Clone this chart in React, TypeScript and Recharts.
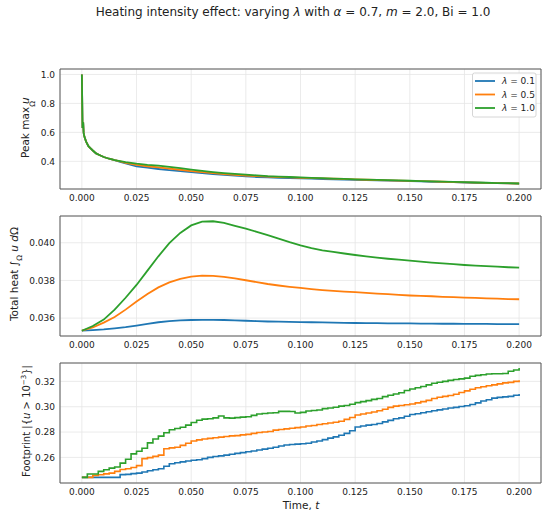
import React from 'react';
import { LineChart, Line, XAxis, YAxis, CartesianGrid, ReferenceArea } from 'recharts';

// lambda values shown in the legend, one colour each
const lambdas = ['0.1', '0.5', '1.0'];
const colors = ['#1f77b4', '#ff7f0e', '#2ca02c'];
const keys = ['l01', 'l05', 'l10'];

const xTicks = [0, 0.025, 0.05, 0.075, 0.1, 0.125, 0.15, 0.175, 0.2];
const xDomain = [-0.01, 0.21];

// panel 1: peak max u
const peakTime = [
  0, 0.0003, 0.0006, 0.0008, 0.001, 0.0015, 0.002, 0.003, 0.004, 0.005, 0.0065, 0.008, 0.01, 0.0125, 0.015, 0.0175, 0.02,
  0.025, 0.03, 0.035, 0.04, 0.045, 0.05, 0.055, 0.06, 0.065, 0.07, 0.075, 0.08, 0.085, 0.09, 0.095, 0.1,
  0.105, 0.11, 0.115, 0.12, 0.125, 0.13, 0.135, 0.14, 0.145, 0.15, 0.155, 0.16, 0.165, 0.17, 0.175, 0.18,
  0.185, 0.19, 0.195, 0.2,
];
const peakL01 = [
  1.0, 0.63, 0.67, 0.6, 0.58, 0.555, 0.535, 0.505, 0.49, 0.475, 0.455, 0.444, 0.43, 0.418, 0.408, 0.396, 0.386,
  0.366, 0.356, 0.347, 0.339, 0.332, 0.325, 0.318, 0.312, 0.306, 0.301, 0.296, 0.292, 0.289, 0.286, 0.284, 0.282,
  0.28, 0.278, 0.276, 0.274, 0.272, 0.27, 0.268, 0.267, 0.265, 0.263, 0.261, 0.259, 0.258, 0.256, 0.254, 0.252,
  0.251, 0.249, 0.248, 0.246,
];
const peakL05 = [
  1.0, 0.63, 0.67, 0.6, 0.58, 0.555, 0.535, 0.505, 0.49, 0.475, 0.455, 0.444, 0.43, 0.418, 0.408, 0.399, 0.39,
  0.375, 0.366, 0.358, 0.35, 0.342, 0.333, 0.325, 0.318, 0.312, 0.307, 0.302, 0.298, 0.294, 0.291, 0.289, 0.286,
  0.284, 0.282, 0.28, 0.278, 0.275, 0.273, 0.271, 0.269, 0.267, 0.265, 0.263, 0.261, 0.259, 0.257, 0.255, 0.253,
  0.251, 0.25, 0.248, 0.247,
];
const peakL10 = [
  1.0, 0.63, 0.67, 0.6, 0.58, 0.555, 0.535, 0.505, 0.49, 0.475, 0.455, 0.444, 0.43, 0.418, 0.408, 0.401, 0.394,
  0.384, 0.376, 0.37, 0.362, 0.353, 0.343, 0.334, 0.326, 0.319, 0.313, 0.308, 0.303, 0.298, 0.295, 0.292, 0.289,
  0.286, 0.284, 0.281, 0.279, 0.276, 0.274, 0.272, 0.27, 0.268, 0.266, 0.264, 0.262, 0.26, 0.258, 0.256, 0.254,
  0.252, 0.25, 0.249, 0.247,
];

// panel 2: total heat
const heatTime = [
  0, 0.005, 0.01, 0.015, 0.02, 0.025, 0.03, 0.035, 0.04, 0.045, 0.05, 0.055, 0.06, 0.065, 0.07, 0.075, 0.08,
  0.085, 0.09, 0.095, 0.1, 0.105, 0.11, 0.115, 0.12, 0.125, 0.13, 0.135, 0.14, 0.145, 0.15, 0.155, 0.16,
  0.165, 0.17, 0.175, 0.18, 0.185, 0.19, 0.195, 0.2,
];
const heatL01 = [
  0.03533, 0.03536, 0.0354, 0.03546, 0.03552, 0.0356, 0.03569, 0.03578, 0.03584, 0.03588, 0.0359, 0.03591, 0.03591,
  0.0359, 0.03588, 0.03586, 0.03584, 0.03582, 0.03581, 0.0358, 0.03579, 0.03578, 0.03577, 0.03576, 0.03575, 0.03574,
  0.03573, 0.03573, 0.03572, 0.03572, 0.03572, 0.03571, 0.03571, 0.0357, 0.0357, 0.03569, 0.03569, 0.03569, 0.03568,
  0.03568, 0.03568,
];
const heatL05 = [
  0.03533, 0.0355, 0.03576, 0.03606, 0.03645, 0.03688, 0.03728, 0.03763, 0.0379, 0.03808, 0.0382, 0.03825, 0.03824,
  0.03819, 0.03811, 0.03801, 0.03791, 0.03781, 0.03773, 0.03766, 0.0376, 0.03754, 0.03749, 0.03745, 0.03741, 0.03738,
  0.03734, 0.0373, 0.03727, 0.03723, 0.0372, 0.03718, 0.03716, 0.03713, 0.03711, 0.03709, 0.03707, 0.03705, 0.03703,
  0.03701, 0.037,
];
const heatL10 = [
  0.03533, 0.03558, 0.03592, 0.03645, 0.03708, 0.03776, 0.03852, 0.03928, 0.03998, 0.04052, 0.04092, 0.04112, 0.04114,
  0.04106, 0.0409, 0.04075, 0.04058, 0.0404, 0.04022, 0.04003, 0.03986, 0.03972, 0.0396, 0.03951, 0.03943, 0.03935,
  0.03928, 0.03921, 0.03915, 0.0391, 0.03905, 0.039, 0.03895, 0.0389, 0.03886, 0.03882, 0.03879, 0.03876, 0.03873,
  0.0387, 0.03868,
];

// panel 3: footprint
const footTime = [
  0, 0.0025, 0.005, 0.0075, 0.01, 0.0125, 0.015, 0.0175, 0.02, 0.0225, 0.025, 0.0275, 0.03, 0.0325, 0.035, 0.0375,
  0.04, 0.0425, 0.045, 0.0475, 0.05, 0.0525, 0.055, 0.0575, 0.06, 0.0625, 0.065, 0.0675, 0.07, 0.0725, 0.075, 0.0775,
  0.08, 0.0825, 0.085, 0.0875, 0.09, 0.0925, 0.095, 0.0975, 0.1, 0.1025, 0.105, 0.1075, 0.11, 0.1125, 0.115, 0.1175,
  0.12, 0.1225, 0.125, 0.1275, 0.13, 0.1325, 0.135, 0.1375, 0.14, 0.1425, 0.145, 0.1475, 0.15, 0.1525, 0.155, 0.1575,
  0.16, 0.1625, 0.165, 0.1675, 0.17, 0.1725, 0.175, 0.1775, 0.18, 0.1825, 0.185, 0.1875, 0.19, 0.1925, 0.195, 0.1975,
  0.2,
];
const footL01 = [
  0.2442, 0.2442, 0.2442, 0.2442, 0.2442, 0.2442, 0.2442, 0.2464, 0.2466, 0.2472, 0.2476, 0.2485, 0.2495, 0.2503,
  0.251, 0.253, 0.255, 0.2558, 0.2565, 0.2572, 0.2577, 0.2582, 0.259, 0.26, 0.2607, 0.2612, 0.2618, 0.2625, 0.2632,
  0.2638, 0.2645, 0.265, 0.2658, 0.2665, 0.2672, 0.268, 0.269, 0.2698, 0.2702, 0.2705, 0.2708, 0.2712, 0.2722, 0.273,
  0.274, 0.2752, 0.2762, 0.2775, 0.279, 0.281, 0.284, 0.2848, 0.2855, 0.286, 0.2868, 0.288, 0.2892, 0.2905, 0.2912,
  0.2925, 0.2938, 0.2945, 0.2952, 0.296, 0.2968, 0.2975, 0.2982, 0.299, 0.2995, 0.3002, 0.3008, 0.3018, 0.303, 0.3045,
  0.3055, 0.3068, 0.3074, 0.3078, 0.3082, 0.309, 0.31,
];
const footL05 = [
  0.2442, 0.2442, 0.2458, 0.2463, 0.247, 0.2476, 0.249, 0.2505, 0.2511, 0.252, 0.2535, 0.259, 0.2598, 0.2608, 0.2618,
  0.2668, 0.2675, 0.268, 0.2695, 0.2712, 0.273, 0.2738, 0.2745, 0.275, 0.2755, 0.276, 0.2765, 0.277, 0.2772, 0.2778,
  0.2782, 0.279, 0.2797, 0.28, 0.2805, 0.2815, 0.282, 0.2825, 0.283, 0.2835, 0.284, 0.2848, 0.2852, 0.286, 0.2866,
  0.2872, 0.2878, 0.2885, 0.29, 0.2915, 0.2935, 0.2942, 0.295, 0.2958, 0.2968, 0.298, 0.2995, 0.3005, 0.301, 0.3015,
  0.3022, 0.303, 0.304, 0.305, 0.3065, 0.3075, 0.3082, 0.3088, 0.3098, 0.3112, 0.3125, 0.3138, 0.315, 0.3158, 0.3165,
  0.3172, 0.318, 0.3188, 0.3192, 0.32, 0.3208,
];
const footL10 = [
  0.2442, 0.2469, 0.2469, 0.249, 0.2503, 0.2515, 0.2524, 0.2555, 0.2585, 0.2628, 0.2648, 0.2672, 0.2715, 0.2745,
  0.2768, 0.2795, 0.2818, 0.2828, 0.2838, 0.2855, 0.2875, 0.2893, 0.2902, 0.2905, 0.2912, 0.2927, 0.2912, 0.291,
  0.2914, 0.2918, 0.2921, 0.2932, 0.2942, 0.2946, 0.295, 0.2952, 0.2963, 0.2963, 0.2962, 0.295, 0.2955, 0.2966, 0.297,
  0.2974, 0.2985, 0.299, 0.2996, 0.3005, 0.301, 0.302, 0.3032, 0.304, 0.3048, 0.3058, 0.3065, 0.308, 0.309, 0.31,
  0.311, 0.3128, 0.314, 0.315, 0.316, 0.3172, 0.3185, 0.3193, 0.32, 0.3208, 0.3215, 0.322, 0.3226, 0.324, 0.3247,
  0.3252, 0.3258, 0.326, 0.326, 0.3262, 0.328, 0.329, 0.3305,
];

const build = (time: number[], a: number[], b: number[], c: number[]) =>
  time.map((t, i) => ({ t, l01: a[i], l05: b[i], l10: c[i] }));

const peakData = build(peakTime, peakL01, peakL05, peakL10);
const heatData = build(heatTime, heatL01, heatL05, heatL10);
const footData = build(footTime, footL01, footL05, footL10);

const FONT = 'DejaVu Sans, sans-serif';
const tickStyle = { fontSize: 9, fill: '#222', fontFamily: FONT };

interface PanelProps {
  top: number;
  data: any[];
  domain: number[];
  ticks: number[];
  digits: number;
  step?: boolean;
}

function Panel({ top, data, domain, ticks, digits, step = false }: PanelProps) {
  return (
    <div style={{ position: 'absolute', left: 0, top }}>
      <LineChart width={550} height={150} data={data} margin={{ top: 5, right: 9, bottom: 0, left: 15 }}>
        <CartesianGrid stroke="#e6e6e6" strokeWidth={0.8} />
        <XAxis
          dataKey="t"
          type="number"
          domain={xDomain}
          ticks={xTicks}
          tickFormatter={(v: number) => v.toFixed(3)}
          height={25}
          tickLine={false}
          axisLine={false}
          tickSize={4}
          tickMargin={2}
          tick={tickStyle}
          allowDataOverflow
        />
        <YAxis
          type="number"
          domain={domain}
          ticks={ticks}
          tickFormatter={(v: number) => v.toFixed(digits)}
          width={45}
          tickLine={false}
          axisLine={false}
          tickSize={3}
          tickMargin={2}
          tick={tickStyle}
          allowDataOverflow
        />
        <ReferenceArea
          x1={xDomain[0]}
          x2={xDomain[1]}
          y1={domain[0]}
          y2={domain[1]}
          fill="none"
          stroke="#595959"
          strokeWidth={1}
          ifOverflow="visible"
        />
        {keys.map((k, i) => (
          <Line
            key={k}
            dataKey={k}
            type={step ? 'stepAfter' : 'linear'}
            stroke={colors[i]}
            strokeWidth={step ? 1.6 : 1.8}
            dot={false}
            isAnimationActive={false}
          />
        ))}
      </LineChart>
    </div>
  );
}

export default function App() {
  return (
    <div style={{ position: 'absolute', left: 0, top: 0, width: 550, height: 517, background: '#fff', fontFamily: FONT }}>
      <Panel top={64} data={peakData} domain={[0.209, 1.0377]} ticks={[0.4, 0.6, 0.8, 1.0]} digits={1} />
      <Panel top={211} data={heatData} domain={[0.03505, 0.04142]} ticks={[0.036, 0.038, 0.04]} digits={3} />
      <Panel top={358} data={footData} domain={[0.2398, 0.3345]} ticks={[0.26, 0.28, 0.3, 0.32]} digits={2} step />

      <svg width={550} height={517} style={{ position: 'absolute', left: 0, top: 0, pointerEvents: 'none' }} fontFamily={FONT} fill="#222">
        <text x={293} y={16} textAnchor="middle" fontSize={12}>
          Heating intensity effect: varying <tspan fontStyle="italic">λ</tspan> with <tspan fontStyle="italic">α</tspan> = 0.7, <tspan fontStyle="italic">m</tspan> = 2.0, Bi = 1.0
        </text>

        {/* y labels */}
        <text transform="translate(29,158) rotate(-90)" fontSize={10.5}>
          Peak max<tspan fontSize={7.5} dy={6}>Ω</tspan><tspan dx={-3} dy={-6} fontStyle="italic">u</tspan>
        </text>
        <text transform="translate(18,274) rotate(-90)" fontSize={10.5} textAnchor="middle">
          Total heat ∫<tspan fontSize={7.5} dy={4}>Ω</tspan><tspan dy={-4} fontStyle="italic"> u d</tspan>Ω
        </text>
        <text transform="translate(30,421) rotate(-90)" fontSize={10} textAnchor="middle">
          Footprint |{'{'}<tspan fontStyle="italic">u</tspan> &gt; 10<tspan fontSize={7} dy={-4}>−3</tspan><tspan dy={4}>{'}'}|</tspan>
        </text>

        <text x={301} y={509} textAnchor="middle" fontSize={10.5}>
          Time, <tspan fontStyle="italic">t</tspan>
        </text>

        {/* legend */}
        <rect x={472.5} y={73} width={63.5} height={44} rx={2} fill="#fff" fillOpacity={0.85} stroke="#cccccc" strokeWidth={0.8} />
        {lambdas.map((l, i) => (
          <g key={l}>
            <line x1={475} x2={495} y1={81 + i * 13.5} y2={81 + i * 13.5} stroke={colors[i]} strokeWidth={1.8} />
            <text x={502} y={84.3 + i * 13.5} fontSize={9}>
              <tspan fontStyle="italic">λ</tspan> = {l}
            </text>
          </g>
        ))}
      </svg>
    </div>
  );
}
